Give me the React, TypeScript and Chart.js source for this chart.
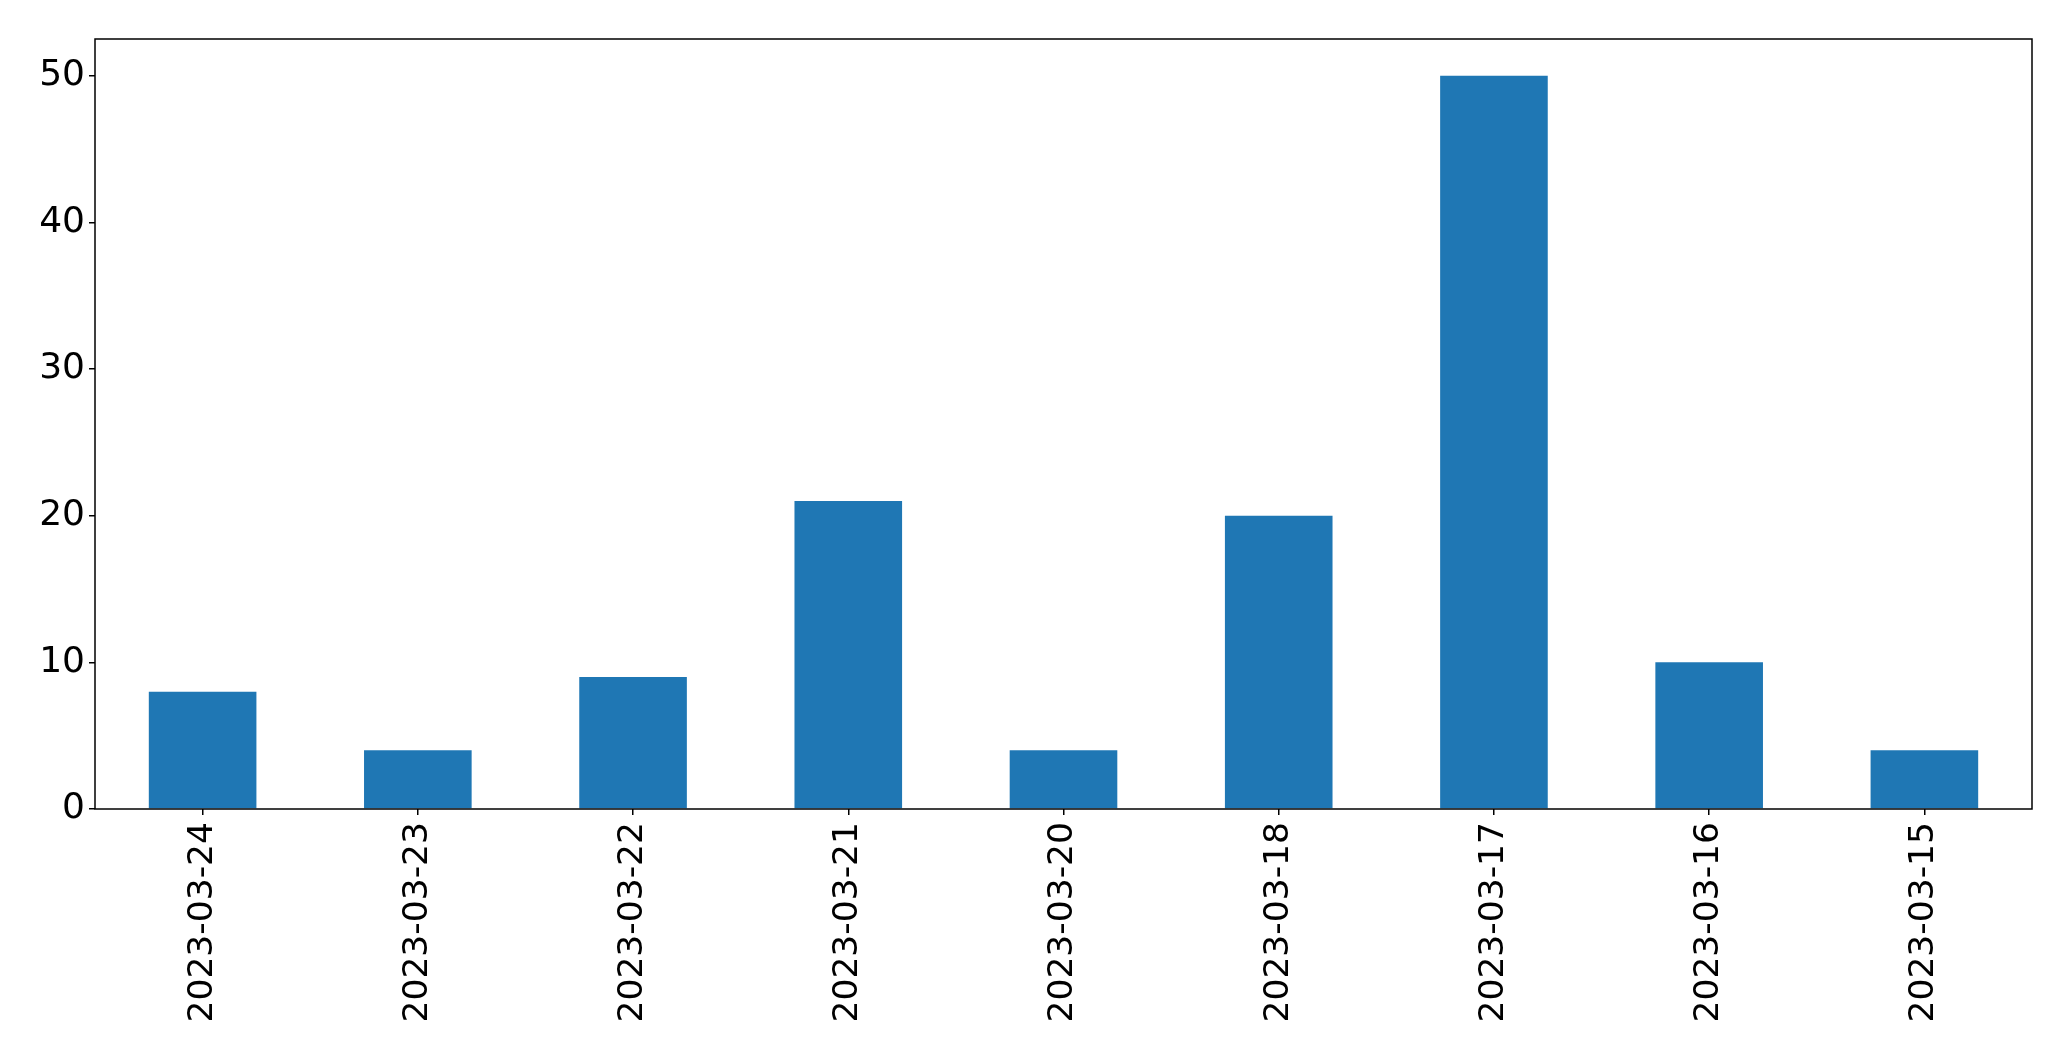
import React, { useEffect, useRef } from "react";
import { Chart, registerables } from "chart.js";

Chart.register(...registerables);

const categories = [
  "2023-03-24",
  "2023-03-23",
  "2023-03-22",
  "2023-03-21",
  "2023-03-20",
  "2023-03-18",
  "2023-03-17",
  "2023-03-16",
  "2023-03-15",
];
const counts = [8, 4, 9, 21, 4, 20, 50, 10, 4];
const yTicks = [0, 10, 20, 30, 40, 50];

const framePlugin = {
  id: "frame",
  afterDraw(chart: any) {
    const { ctx, chartArea } = chart;
    ctx.save();
    ctx.strokeStyle = "#000";
    ctx.lineWidth = 1.5;
    ctx.strokeRect(
      chartArea.left,
      chartArea.top,
      chartArea.right - chartArea.left,
      chartArea.bottom - chartArea.top
    );
    ctx.restore();
  },
};

export default function App() {
  const ref = useRef<HTMLCanvasElement | null>(null);
  useEffect(() => {
    document.body.style.margin = "0";
    const chart = new Chart(ref.current as HTMLCanvasElement, {
      type: "bar",
      data: {
        labels: categories,
        datasets: [
          {
            data: counts,
            backgroundColor: "#1f77b4",
            barPercentage: 0.5,
            categoryPercentage: 1,
          },
        ],
      },
      options: {
        responsive: false,
        animation: false,
        layout: { padding: { left: 0, top: 39, right: 39, bottom: 0 } },
        plugins: { legend: { display: false }, tooltip: { enabled: false } },
        scales: {
          x: {
            type: "category",
            offset: true,
            grid: {
              offset: false,
              drawOnChartArea: false,
              drawTicks: true,
              tickLength: 6,
              color: "#000",
              lineWidth: 1.5,
            },
            border: { display: false },
            ticks: {
              color: "#000",
              font: { family: "DejaVu Sans", size: 34.5 },
              maxRotation: 90,
              minRotation: 90,
              padding: 7,
              autoSkip: false,
            },
            afterFit(scale: any) {
              scale.height = 1061 - 809;
            },
          },
          y: {
            min: 0,
            max: 52.5,
            afterBuildTicks(scale: any) {
              scale.ticks = yTicks.map((v) => ({ value: v }));
            },
            grid: {
              drawOnChartArea: false,
              drawTicks: true,
              tickLength: 6,
              color: "#000",
              lineWidth: 1.5,
            },
            border: { display: false },
            ticks: {
              color: "#000",
              font: { family: "DejaVu Sans", size: 36 },
              padding: 4,
            },
            afterFit(scale: any) {
              scale.width = 95;
            },
          },
        },
      },
      plugins: [framePlugin],
    });
    return () => chart.destroy();
  }, []);
  return <canvas ref={ref} width={2071} height={1061} style={{ display: "block" }} />;
}
